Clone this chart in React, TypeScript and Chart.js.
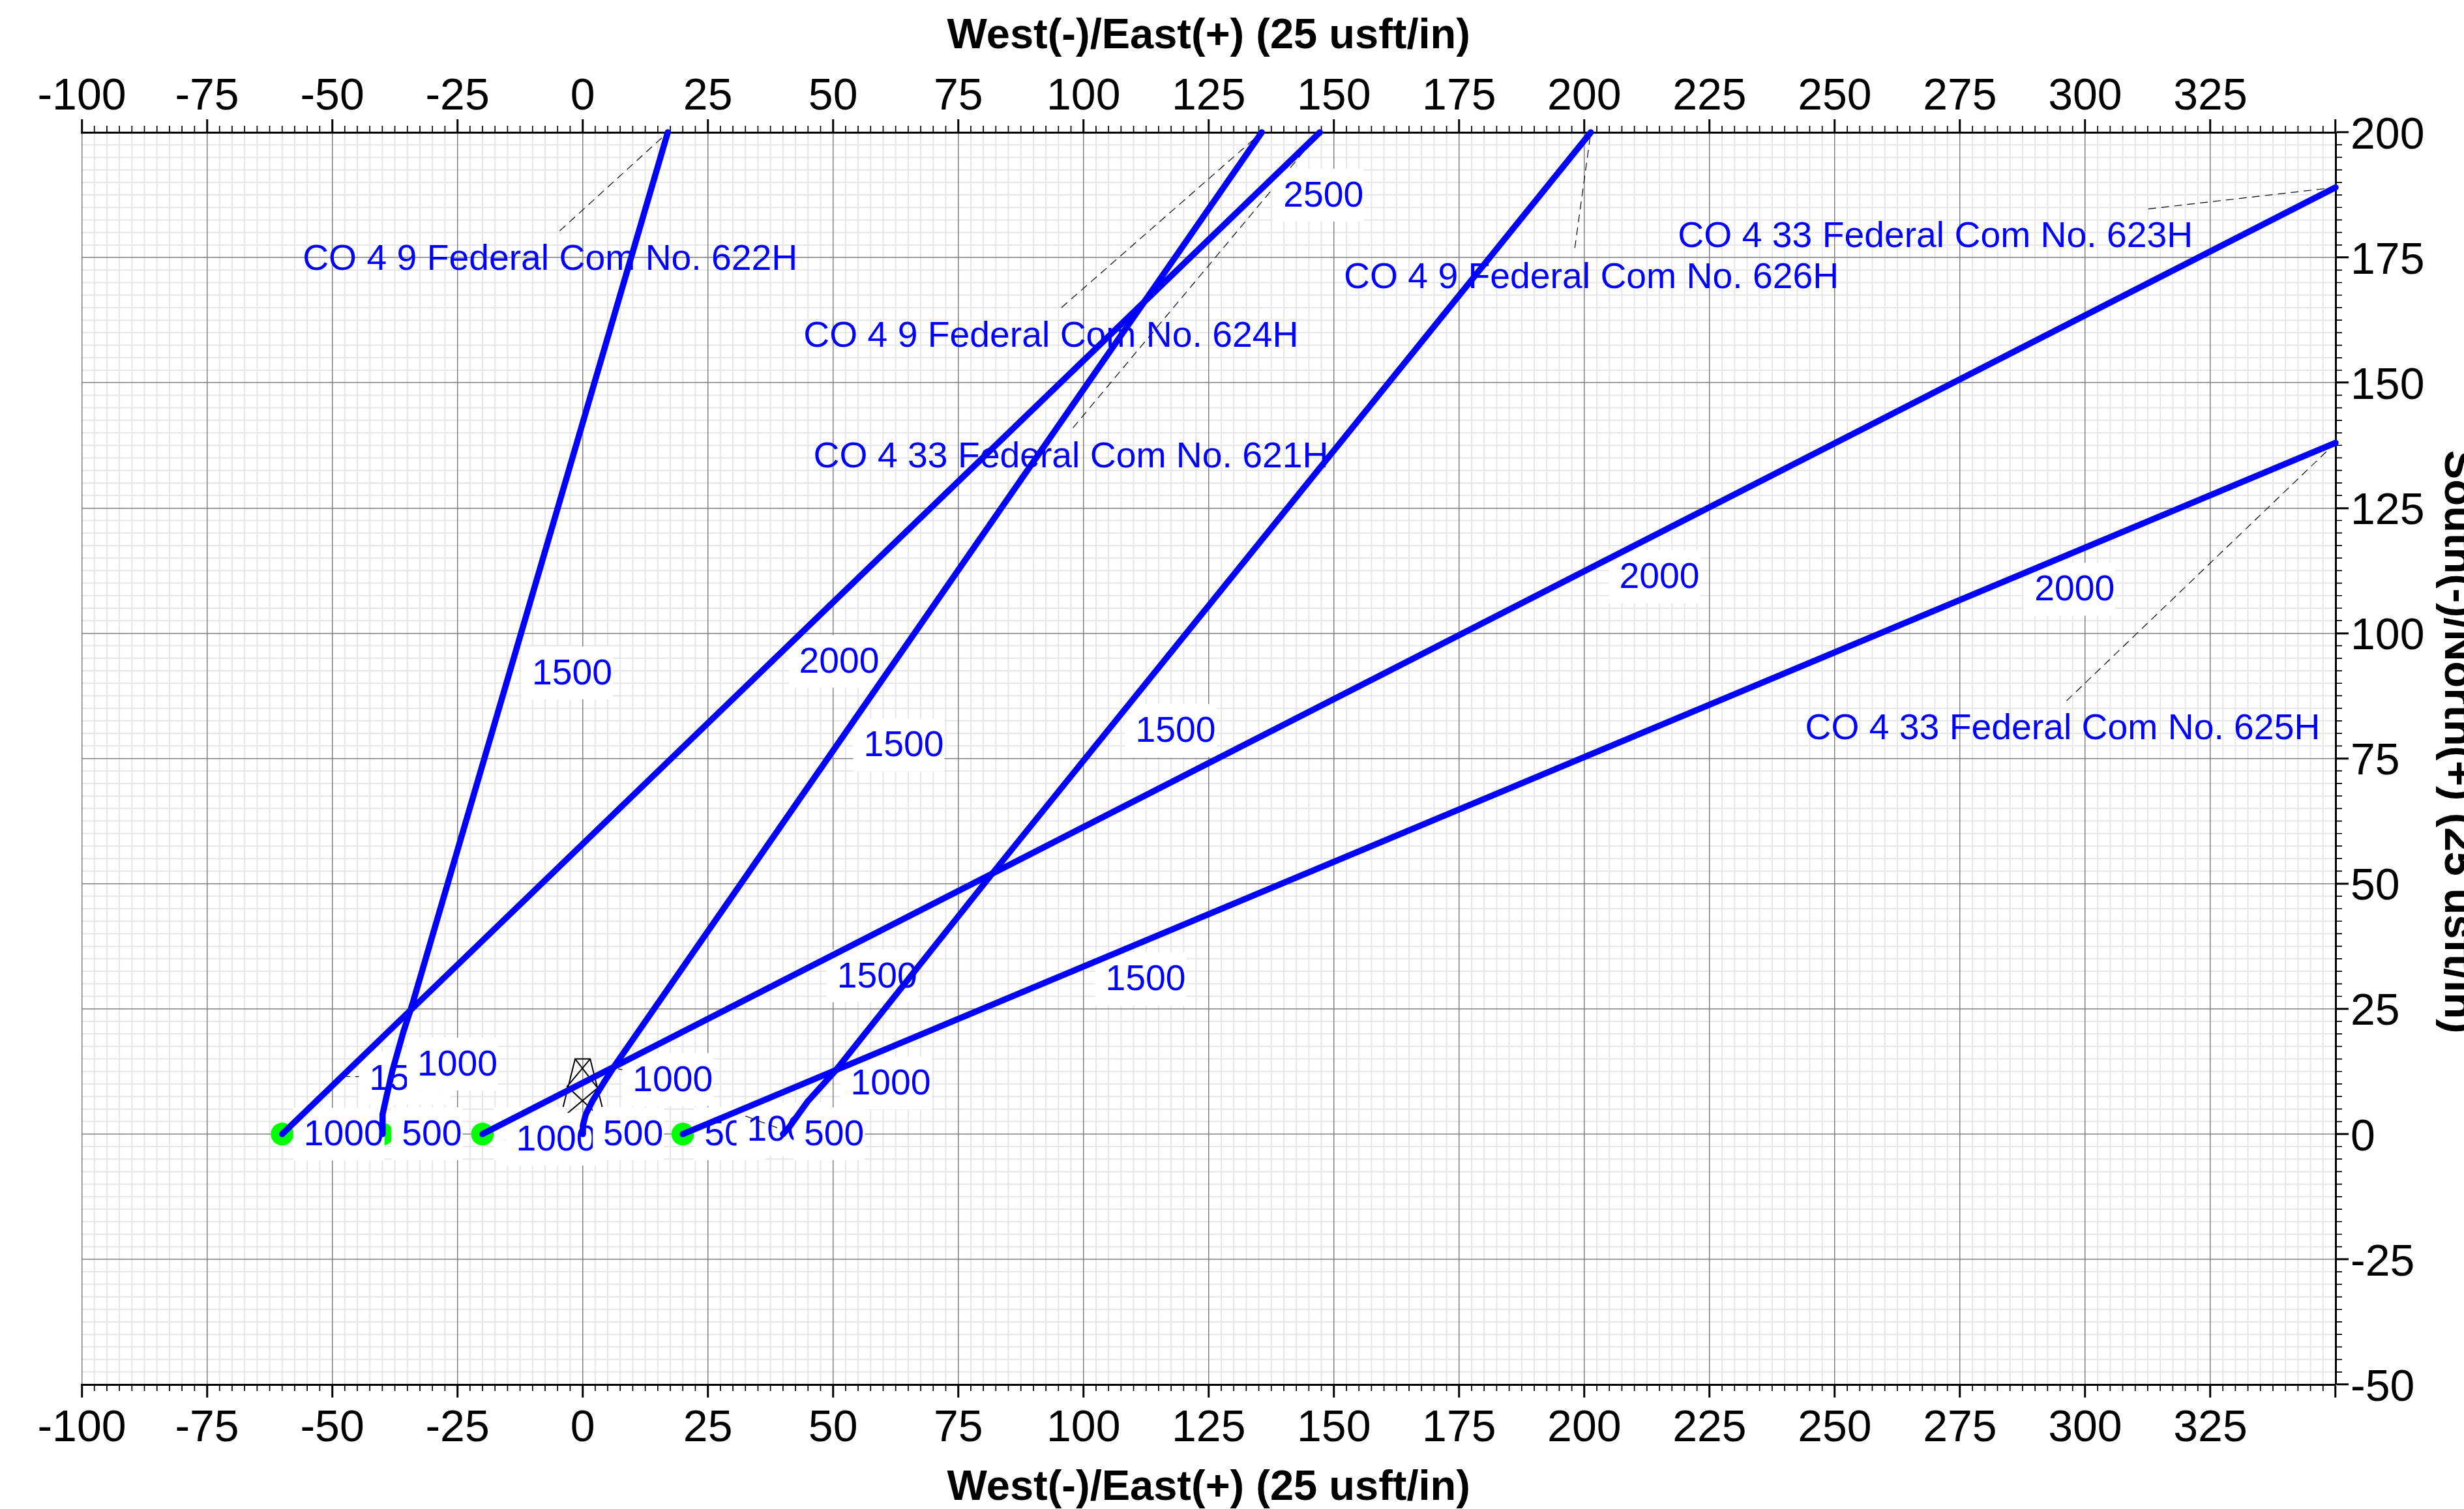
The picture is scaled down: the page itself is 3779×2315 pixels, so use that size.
import React, { useEffect, useRef } from "react";
import { Chart, registerables } from "chart.js";

Chart.register(...registerables);

const FONT = "'Liberation Sans', Arial, Helvetica, sans-serif";
const BLUE = "#0000ff";

// Tick labels
const xTickLabels = [-100, -75, -50, -25, 0, 25, 50, 75, 100, 125, 150, 175, 200, 225, 250, 275, 300, 325];
const yTickLabels = [-50, -25, 0, 25, 50, 75, 100, 125, 150, 175, 200];
const xTitle = "West(-)/East(+) (25 usft/in)";
const yTitle = "South(-)/North(+) (25 usft/in)";

// Well paths: [east, north]
const well622H = [[-40, 0], [-39.95, 3.9], [-39.3, 6.9], [-38, 12.6], [-35.8, 20.4], [-34.1, 25.6], [17, 200]];
const well624H = [[-60, 0], [147.2, 200]];
const well621H = [[0, 0], [0.05, 1.7], [0.6, 3.9], [1.9, 6.5], [4.3, 10.4], [6.7, 14.1], [135.6, 200]];
const well623H = [[-20, 0], [350, 189]];
const well625H = [[20, 0], [350, 138]];
const well626H = [[40, 0], [41.4, 1.6], [45, 6.6], [50.6, 12.8], [81.3, 51.4], [201.3, 200]];
const wells = [well622H, well624H, well621H, well623H, well625H, well626H];

const surfaceLocations = [[-60, 0], [-40, 0], [-20, 0], [0, 0], [20, 0], [40, 0]];

// Rig symbol, null = pen up
const rigSymbol = [
  [-3.9, 5.4], [-1.5, 15], [1.5, 15], [3.9, 5.4], null,
  [-1.5, 15], [3.0, 9.2], [-3.1, 4.1], null,
  [1.5, 15], [-3.1, 9.5], [2.2, 4.6],
];

// Well-name labels: text, east, north
const nameLabels: [string, number, number][] = [
  ["CO 4 9 Federal Com No. 622H", -6.5, 175.2],
  ["CO 4 9 Federal Com No. 624H", 93.5, 159.8],
  ["CO 4 33 Federal Com No. 621H", 97.5, 135.7],
  ["CO 4 9 Federal Com No. 626H", 201.4, 171.5],
  ["CO 4 33 Federal Com No. 623H", 270.1, 179.7],
  ["CO 4 33 Federal Com No. 625H", 295.5, 81.5],
];

// Dashed leaders from name labels to the end of each well
const nameLeaders = [
  [[-4.6, 180.3], [17, 200]], [[95.6, 165], [135.6, 200]], [[97.9, 141], [147.2, 200]],
  [[198.1, 176.9], [201.3, 200]], [[312.6, 184.7], [350, 189]], [[296.3, 86.5], [350, 138]],
];

// Measured-depth labels in paint order: text, east, north
const depthLabels: [string, number, number][] = [
  ["1500", -2.1, 92.4],
  ["2000", 51.2, 94.7],
  ["1500", 64.1, 78],
  ["1500", 118.4, 80.9],
  ["2500", 147.9, 187.8],
  ["2000", 215, 111.6],
  ["2000", 297.9, 109.1],
  ["1500", 58.8, 31.9],
  ["1500", 112.4, 31.3],
  ["1000", -47.7, 0.3],
  ["500", -30.1, 0.4],
  ["1500", -34.6, 11.4],
  ["1000", -25, 14.3],
  ["500", -9.7, 0.4],
  ["1000", -5.3, -0.7],
  ["500", 10.1, 0.4],
  ["1000", 18, 11.2],
  ["500", 30.3, 0.4],
  ["1000", 40.8, 1.3],
  ["1000", 61.5, 10.5],
  ["500", 50.2, 0.4],
];

// Short dashes running from the wells to the depth labels near the surface
const depthLeaders = [
  [[-60, 0], [-47.7, 0.3]], [[-40, 0], [-30.1, 0.4]], [[-48, 11.5], [-34.6, 11.4]], [[-37.3, 15], [-25, 14.3]],
  [[-20, 0], [-9.7, 0.4]], [[0, 0], [10.1, 0.4]], [[7.1, 13], [18, 11.2]], [[20, 0], [30.3, 0.4]],
  [[49.5, 12.6], [61.5, 10.5]], [[40, 0], [50.2, 0.4]],
];

// Dashes that stay visible on top of the label boxes
const upperDashes = [[[32.5, 3.6], [39.8, 0.9]]];

const pts = (a: (number[] | null)[]) => a.map((p) => (p ? { x: p[0], y: p[1] } : { x: NaN, y: NaN }));
const joinSegments = (segs: number[][][]) => {
  const out: (number[] | null)[] = [];
  segs.forEach((s, i) => {
    if (i) out.push(null);
    out.push(...s);
  });
  return pts(out);
};

const isMajor = (v: number) => v % 25 === 0;

const minorGridPlugin = {
  id: "minorGrid",
  beforeDraw(chart: any) {
    const { ctx, chartArea: a, scales } = chart;
    ctx.save();
    ctx.strokeStyle = "#e6e6e6";
    ctx.lineWidth = 2;
    ctx.beginPath();
    for (const t of scales.x.ticks) {
      if (isMajor(t.value)) continue;
      const p = scales.x.getPixelForValue(t.value);
      ctx.moveTo(p, a.top);
      ctx.lineTo(p, a.bottom);
    }
    for (const t of scales.y.ticks) {
      if (isMajor(t.value)) continue;
      const p = scales.y.getPixelForValue(t.value);
      ctx.moveTo(a.left, p);
      ctx.lineTo(a.right, p);
    }
    ctx.stroke();
    ctx.strokeStyle = "#000";
    ctx.lineWidth = 1.7;
    ctx.beginPath();
    const len = 10;
    for (const t of scales.x.ticks) {
      if (isMajor(t.value)) continue;
      const p = scales.x.getPixelForValue(t.value);
      ctx.moveTo(p, a.bottom);
      ctx.lineTo(p, a.bottom + len);
      ctx.moveTo(p, a.top);
      ctx.lineTo(p, a.top - len);
    }
    for (const t of scales.y.ticks) {
      if (isMajor(t.value)) continue;
      const p = scales.y.getPixelForValue(t.value);
      ctx.moveTo(a.right, p);
      ctx.lineTo(a.right + len, p);
    }
    ctx.stroke();
    ctx.restore();
  },
};

const labelPlugin = {
  id: "wellLabels",
  afterDatasetDraw(chart: any, args: any) {
    if (chart.data.datasets[args.index].label !== "Surface locations") return;
    const { ctx, scales } = chart;
    ctx.save();
    ctx.fillStyle = BLUE;
    ctx.textAlign = "center";
    ctx.textBaseline = "alphabetic";
    ctx.font = `55.3px ${FONT}`;
    for (const [text, x, y] of nameLabels) {
      ctx.fillText(text, scales.x.getPixelForValue(x), scales.y.getPixelForValue(y) + 20);
    }
    for (const [text, x, y] of depthLabels) {
      const cx = scales.x.getPixelForValue(x);
      const cy = scales.y.getPixelForValue(y);
      const w = ctx.measureText(text).width;
      ctx.fillStyle = "#fff";
      ctx.fillRect(cx - w / 2 - 16, cy - 38, w + 17, 81);
      ctx.fillStyle = BLUE;
      ctx.fillText(text, cx, cy + 20);
    }
    ctx.restore();
  },
};

const yTitlePlugin = {
  id: "rightTitle",
  afterDraw(chart: any) {
    const { ctx, scales } = chart;
    ctx.save();
    ctx.translate(3750, scales.y.getPixelForValue(78.3));
    ctx.rotate(Math.PI / 2);
    ctx.fillStyle = "#000";
    ctx.font = `bold 67px ${FONT}`;
    ctx.textAlign = "center";
    ctx.textBaseline = "alphabetic";
    ctx.fillText(yTitle, 0, 0);
    ctx.restore();
  },
};

const tickGrid = (onArea: boolean) => ({
  drawOnChartArea: onArea,
  drawTicks: true,
  tickLength: 20,
  color: (c: any) => (c.tick && isMajor(c.tick.value) ? "#808080" : "rgba(0,0,0,0)"),
  lineWidth: (c: any) => (c.tick && isMajor(c.tick.value) ? 1.5 : 0),
  tickColor: (c: any) => (c.tick && isMajor(c.tick.value) ? "#000" : "rgba(0,0,0,0)"),
  tickWidth: (c: any) => (c.tick && isMajor(c.tick.value) ? 3 : 0),
});

const xAxis = (position: string, height: number, onArea: boolean, tickPad: number, titlePad: any) => ({
  type: "linear",
  axis: "x",
  position,
  min: -100,
  max: 350,
  afterFit(s: any) {
    s.height = height;
    s.paddingLeft = 0;
    s.paddingRight = 0;
  },
  ticks: {
    stepSize: 2.5,
    autoSkip: false,
    maxRotation: 0,
    minRotation: 0,
    padding: tickPad,
    color: "#000",
    font: { family: FONT, size: 68 },
    callback: (v: number) => (xTickLabels.includes(v) ? String(v) : ""),
  },
  grid: tickGrid(onArea),
  border: { display: true, color: "#000", width: 3 },
  title: {
    display: true,
    text: xTitle,
    color: "#000",
    font: { family: FONT, size: 65, weight: "bold" },
    padding: titlePad,
  },
});

export default function App() {
  const ref = useRef<HTMLCanvasElement>(null);
  useEffect(() => {
    const line = { showLine: true, pointRadius: 0, fill: false, tension: 0 };
    const chart = new Chart(ref.current as any, {
      type: "scatter",
      data: {
        datasets: [
          ...wells.map((w, i) => ({
            ...line,
            label: `Well ${i}`,
            data: pts(w),
            borderColor: BLUE,
            borderWidth: 9.5,
            borderCapStyle: "round",
            borderJoinStyle: "round",
            clip: false,
            order: 1,
          })),
          {
            label: "Surface locations",
            data: pts(surfaceLocations),
            showLine: false,
            pointRadius: 17.5,
            pointBorderWidth: 0,
            pointBackgroundColor: "#00ff00",
            backgroundColor: "#00ff00",
            order: 2,
          },
          {
            ...line,
            label: "Rig",
            data: pts(rigSymbol),
            borderColor: "#000",
            borderWidth: 2,
            order: 3,
          },
          {
            ...line,
            label: "Name leaders",
            data: joinSegments(nameLeaders),
            borderColor: "#000",
            borderWidth: 1.2,
            borderDash: [12, 8],
            clip: false,
            order: 4,
          },
          {
            ...line,
            label: "Depth leaders",
            data: joinSegments(depthLeaders),
            borderColor: "#000",
            borderWidth: 1.2,
            borderDash: [12, 8],
            order: 4,
          },
          {
            ...line,
            label: "Upper dashes",
            data: joinSegments(upperDashes),
            borderColor: "#000",
            borderWidth: 1.2,
            borderDash: [12, 8],
            order: 0,
          },
        ] as any,
      },
      options: {
        animation: false,
        responsive: false,
        devicePixelRatio: 1,
        events: [],
        layout: { padding: { left: 125.5, right: 0, top: 0, bottom: 0 } },
        plugins: { legend: { display: false }, tooltip: { enabled: false }, title: { display: false } },
        scales: {
          x: xAxis("bottom", 191, true, 7, { top: 0, bottom: -7 }),
          xTop: xAxis("top", 203, false, -7, { top: 17, bottom: 0 }),
          y: {
            type: "linear",
            position: "right",
            min: -50,
            max: 200,
            afterFit(s: any) {
              s.width = 197;
              s.paddingTop = 0;
              s.paddingBottom = 0;
            },
            ticks: {
              stepSize: 2.5,
              autoSkip: false,
              padding: 3,
              labelOffset: 6,
              color: "#000",
              font: { family: FONT, size: 68 },
              callback: (v: number) => (yTickLabels.includes(v) ? String(v) : ""),
            },
            grid: tickGrid(true),
            border: { display: true, color: "#000", width: 3 },
          },
        },
      } as any,
      plugins: [minorGridPlugin, labelPlugin, yTitlePlugin],
    } as any);
    return () => chart.destroy();
  }, []);
  return (
    <canvas
      ref={ref}
      width={3779}
      height={2315}
      style={{ position: "absolute", left: 0, top: 0, display: "block", width: 3779, height: 2315 }}
    />
  );
}
